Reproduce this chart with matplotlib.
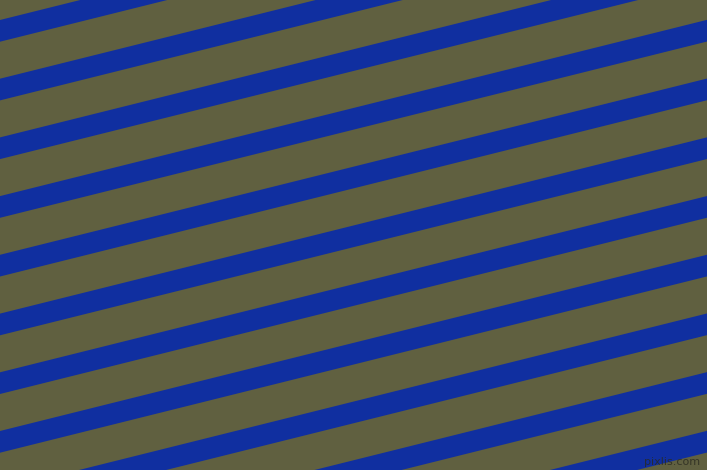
import matplotlib
matplotlib.use("Agg")
import matplotlib.pyplot as plt
import numpy as np

# y of each blue stripe's top edge at the left border (pixels, from top)
stripe_tops = [20.0, 78.7, 137.4, 196.1, 254.8, 313.6, 372.3, 431.0, 489.7, 548.4, 607.1]
stripe_height = 21.7    # vertical thickness of a blue band
slope = -0.2493         # rise per pixel going right (14 deg)

bg_color = "#606040"
stripe_color = "#102fa0"

fig = plt.figure(figsize=(7.07, 4.70), dpi=100)
ax = fig.add_axes([0, 0, 1, 1])
ax.set_facecolor(bg_color)
fig.patch.set_facecolor(bg_color)

x = np.array([0, 707])
for top in stripe_tops:
    y1 = top + slope * x
    ax.fill_between(x, y1, y1 + stripe_height, color=stripe_color, linewidth=0)

ax.text(700, 467, "pixlis.com", ha="right", va="bottom", fontsize=8,
        color="#2a2a20", alpha=0.8)

ax.set_xlim(0, 707)
ax.set_ylim(470, 0)
ax.axis("off")

fig.savefig("out.png", dpi=100, facecolor=bg_color)
